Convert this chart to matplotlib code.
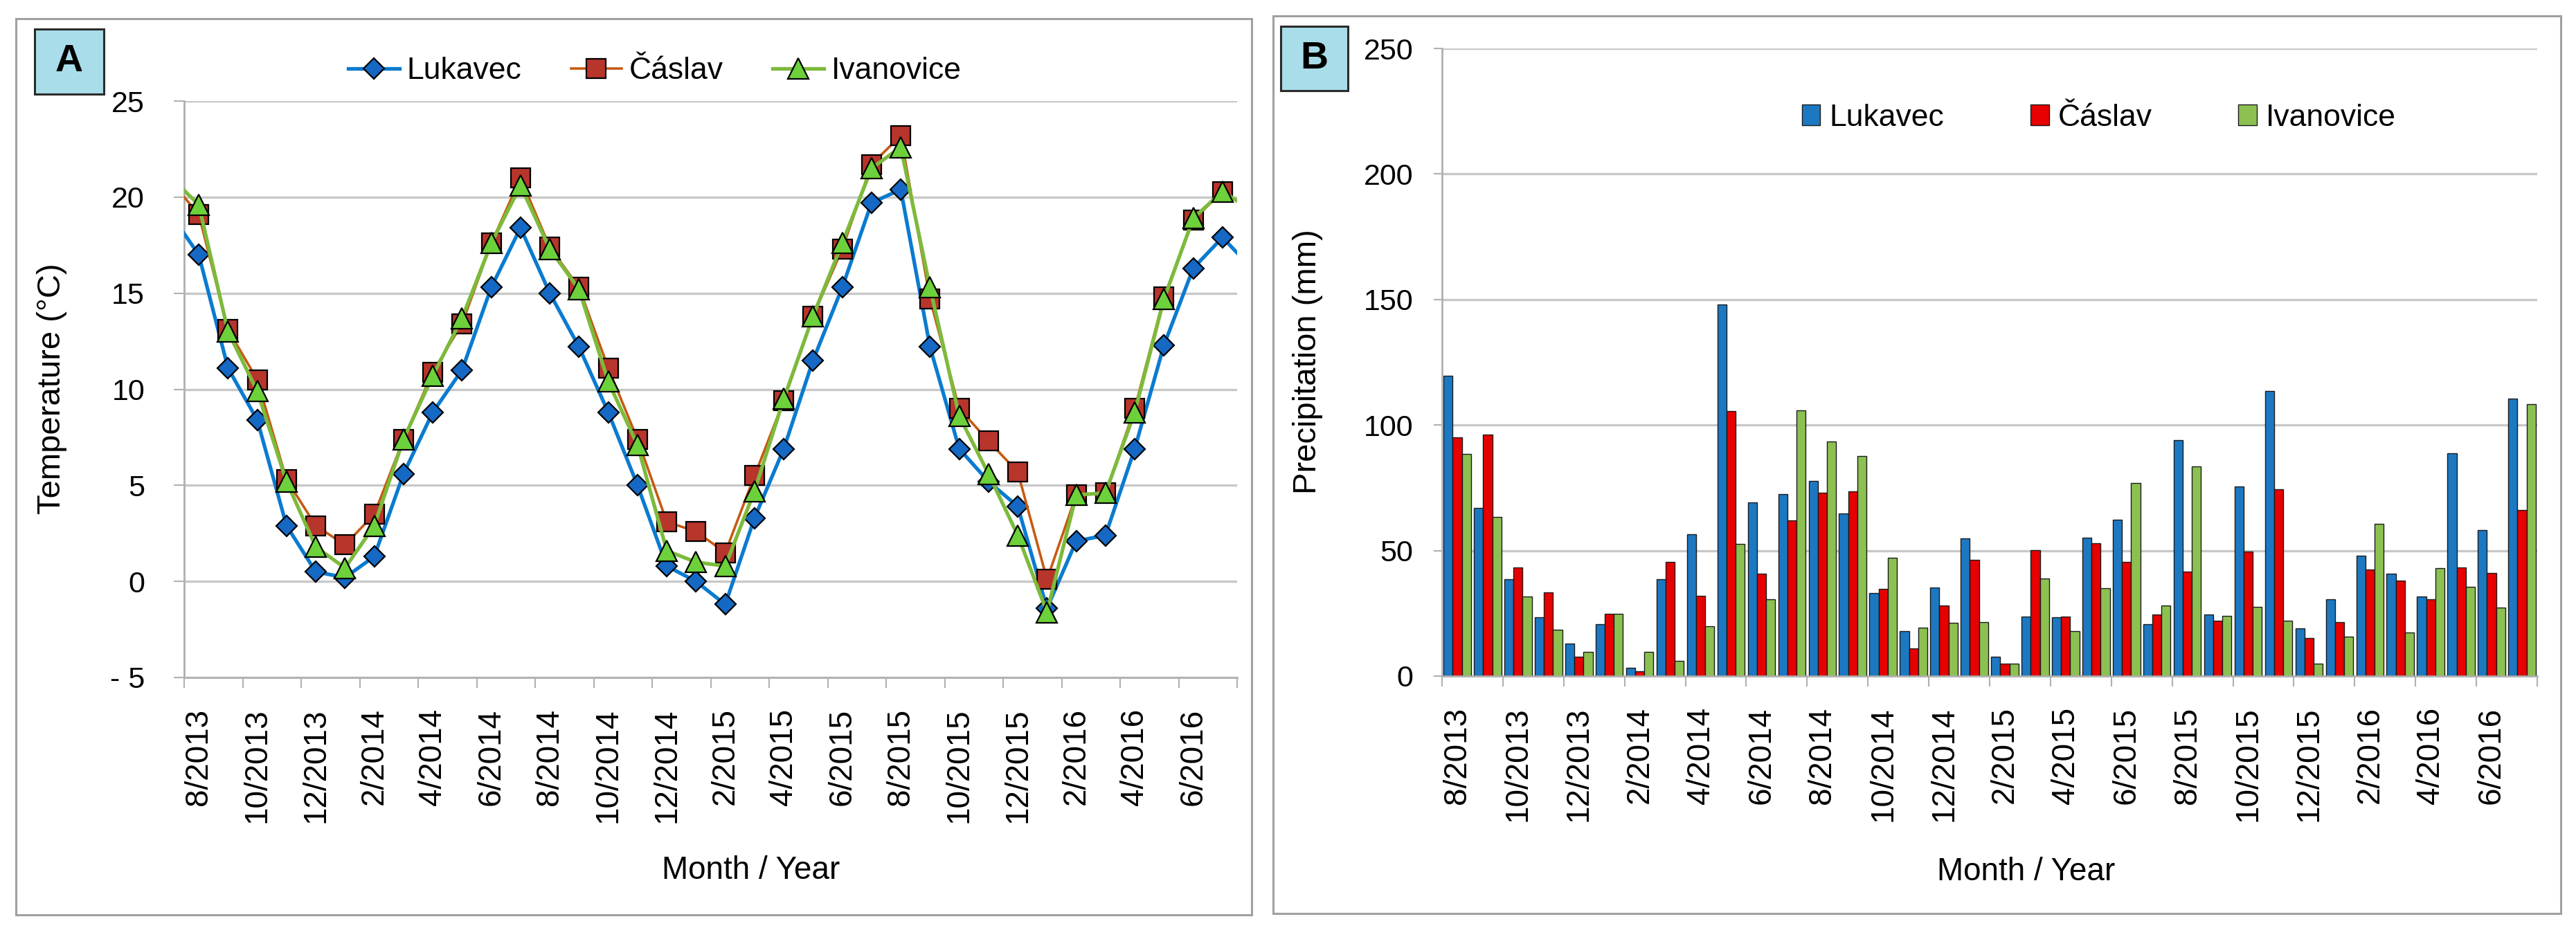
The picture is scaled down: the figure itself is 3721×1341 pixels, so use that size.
import numpy as np
import matplotlib
matplotlib.use('Agg')
import matplotlib.pyplot as plt
from matplotlib.patches import Rectangle

plt.rcParams['font.family'] = ['Liberation Sans', 'DejaVu Sans']

# months shown on the axes (8/2013 .. 7/2016)
months = ['8/2013', '9/2013', '10/2013', '11/2013', '12/2013',
          '1/2014', '2/2014', '3/2014', '4/2014', '5/2014', '6/2014', '7/2014',
          '8/2014', '9/2014', '10/2014', '11/2014', '12/2014',
          '1/2015', '2/2015', '3/2015', '4/2015', '5/2015', '6/2015', '7/2015',
          '8/2015', '9/2015', '10/2015', '11/2015', '12/2015',
          '1/2016', '2/2016', '3/2016', '4/2016', '5/2016', '6/2016', '7/2016']
stations = ['Lukavec', 'Čáslav', 'Ivanovice']

# monthly mean temperature, 7/2013 .. 8/2016 (first and last month fall outside the view)
temp_lukavec = [19.2, 17.0, 11.1, 8.4, 2.9, 0.5, 0.2, 1.3, 5.6, 8.8, 11.0, 15.3, 18.4,
                15.0, 12.2, 8.8, 5.0, 0.8, 0.0, -1.2, 3.3, 6.9, 11.5, 15.3, 19.7,
                20.4, 12.2, 6.9, 5.2, 3.9, -1.4, 2.1, 2.4, 6.9, 12.3, 16.3, 17.9, 16.3]
temp_caslav = [20.9, 19.1, 13.1, 10.5, 5.3, 2.9, 1.9, 3.5, 7.4, 10.9, 13.4, 17.6, 21.0,
               17.4, 15.3, 11.1, 7.4, 3.1, 2.6, 1.5, 5.5, 9.4, 13.8, 17.3, 21.7,
               23.2, 14.7, 9.0, 7.3, 5.7, 0.1, 4.5, 4.6, 9.0, 14.8, 18.8, 20.3, 19.3]
temp_ivanovice = [21.1, 19.6, 13.0, 9.9, 5.2, 1.8, 0.7, 2.9, 7.4, 10.7, 13.7, 17.6, 20.6,
                  17.3, 15.2, 10.4, 7.1, 1.6, 1.0, 0.8, 4.7, 9.5, 13.8, 17.6, 21.5,
                  22.6, 15.3, 8.6, 5.6, 2.4, -1.6, 4.5, 4.6, 8.8, 14.7, 18.9, 20.3, 19.3]

# monthly precipitation (mm), 8/2013 .. 7/2016
prec_lukavec = [119.5, 67.1, 38.6, 23.5, 13.0, 20.6, 3.3, 38.6, 56.5, 148.1, 69.3, 72.5,
                77.6, 64.8, 33.2, 17.8, 35.3, 54.8, 7.8, 23.7, 23.3, 55.2, 62.4, 20.7,
                94.1, 24.4, 75.4, 113.6, 18.9, 30.6, 47.9, 40.8, 31.6, 88.7, 58.1, 110.5]
prec_caslav = [95.2, 96.3, 43.4, 33.4, 7.8, 24.7, 1.8, 45.4, 32.0, 105.5, 40.8, 62.0,
               73.1, 73.5, 34.8, 10.9, 28.0, 46.2, 4.9, 50.3, 23.7, 52.9, 45.6, 24.6,
               41.7, 22.1, 49.5, 74.4, 15.2, 21.5, 42.5, 37.9, 30.6, 43.4, 41.0, 66.2]
prec_ivanovice = [88.5, 63.5, 31.8, 18.4, 9.6, 24.7, 9.6, 6.0, 19.9, 52.6, 30.6, 105.8,
                  93.4, 87.7, 47.0, 19.2, 21.3, 21.5, 4.9, 38.9, 17.8, 35.0, 77.0, 28.0,
                  83.5, 23.9, 27.5, 22.0, 5.0, 15.6, 60.7, 17.4, 43.0, 35.6, 27.3, 108.4]

W, H = 3721, 1341
fig = plt.figure(figsize=(W / 100, H / 100), dpi=100)
fig.patch.set_facecolor('white')


def fx(px):
    return px / W


def fy(py):
    return 1 - py / H


grid_col = '#c8c8c8'
n = len(months)

# panel frames
fig.add_artist(Rectangle((fx(23), fy(1322)), fx(1808 - 23), (1322 - 27) / H,
                         transform=fig.transFigure, fill=False, ec='#a0a0a0', lw=2.2))
fig.add_artist(Rectangle((fx(1839), fy(1320)), fx(3699 - 1839), (1320 - 23) / H,
                         transform=fig.transFigure, fill=False, ec='#a0a0a0', lw=2.2))


def style_axes(ax, ylen, ypad):
    for s in ['top', 'right']:
        ax.spines[s].set_visible(False)
    for s in ['left', 'bottom']:
        ax.spines[s].set_color('#b0b0b0')
        ax.spines[s].set_linewidth(2)
    ax.grid(axis='y', color=grid_col, lw=2.4)
    ax.set_axisbelow(True)
    ax.set_xlim(-0.5, n - 0.5)
    ax.set_xticks(np.arange(-0.5, n + 0.5, 2))
    ax.set_xticklabels([])
    ax.set_xticks(np.arange(0, n, 2), minor=True)
    ax.set_xticklabels(months[::2], minor=True, rotation=90, fontsize=33)
    ax.tick_params(axis='x', which='major', length=11, width=1.5, color='#b0b0b0')
    ax.tick_params(axis='x', which='minor', length=0, pad=32)
    ax.tick_params(axis='y', length=ylen, width=1.5, color='#b0b0b0', pad=ypad, labelsize=31)


# ---- panel A: temperature ----
ax1 = fig.add_axes([fx(266), fy(979), fx(1787 - 266), (979 - 146) / H])
xt = np.arange(-1, n + 1)
ax1.plot(xt, temp_lukavec, color='#0a7bd0', lw=3.8, marker='D', ms=15.5,
         mfc='#1568c4', mec='black', mew=1.6, label=stations[0], zorder=3)
ax1.plot(xt, temp_caslav, color='#c55a11', lw=2.6, marker='s', ms=20,
         mfc='#b8352c', mec='black', mew=1.6, label=stations[1], zorder=4)
ax1.plot(xt, temp_ivanovice, color='#7dba3c', lw=3.8, marker='^', ms=21.5,
         mfc='#6cd13a', mec='black', mew=1.6, label=stations[2], zorder=5)
style_axes(ax1, 11, 30)
ax1.set_ylim(-5, 25)
ax1.set_yticks(np.arange(-5, 26, 5))
ax1.set_yticklabels(['- 5', '0', '5', '10', '15', '20', '25'])

leg1 = ax1.legend(loc='center', bbox_to_anchor=(fx(946), fy(103)),
                  bbox_transform=fig.transFigure, ncol=3, frameon=False,
                  fontsize=32, handlelength=1.65, handletextpad=0.25,
                  columnspacing=1.6, markerscale=1.0)

# ---- panel B: precipitation ----
ax2 = fig.add_axes([fx(2083), fy(977), fx(3665 - 2083), (977 - 70) / H])
xb = np.arange(n)
bw = 0.3
ax2.bar(xb - bw, prec_lukavec, bw, color='#1d78c2', ec='#1a1a1a', lw=1.0, label=stations[0])
ax2.bar(xb, prec_caslav, bw, color='#e60000', ec='#1a1a1a', lw=1.0, label=stations[1])
ax2.bar(xb + bw, prec_ivanovice, bw, color='#8cc152', ec='#1a1a1a', lw=1.0, label=stations[2])
style_axes(ax2, 9, 21)
ax2.set_ylim(0, 250)
ax2.set_yticks(np.arange(0, 251, 50))

leg2 = ax2.legend(loc='center', bbox_to_anchor=(fx(3032), fy(170)),
                  bbox_transform=fig.transFigure, ncol=3, frameon=False,
                  fontsize=32, handlelength=0.6, handleheight=0.65,
                  handletextpad=0.3, columnspacing=2.8)

# axis titles
fig.text(fx(75), fy(562), 'Temperature (°C)', rotation=90, ha='center', va='center', fontsize=34)
fig.text(fx(1889), fy(523), 'Precipitation (mm)', rotation=90, ha='center', va='center', fontsize=34)
fig.text(fx(1085), fy(1258), 'Month / Year', ha='center', va='center', fontsize=33)
fig.text(fx(2927), fy(1260), 'Month / Year', ha='center', va='center', fontsize=33)

# panel letters
fig.add_artist(Rectangle((fx(50), fy(136)), fx(100), 94 / H, transform=fig.transFigure,
                         fc='#a9dde9', ec='#2b2b2b', lw=2.2))
fig.text(fx(100), fy(89), 'A', ha='center', va='center', fontsize=40, fontweight='bold')
fig.add_artist(Rectangle((fx(1850), fy(131)), fx(97), 93 / H, transform=fig.transFigure,
                         fc='#a9dde9', ec='#2b2b2b', lw=2.2))
fig.text(fx(1898), fy(85), 'B', ha='center', va='center', fontsize=40, fontweight='bold')

fig.savefig('out.png', dpi=100)
